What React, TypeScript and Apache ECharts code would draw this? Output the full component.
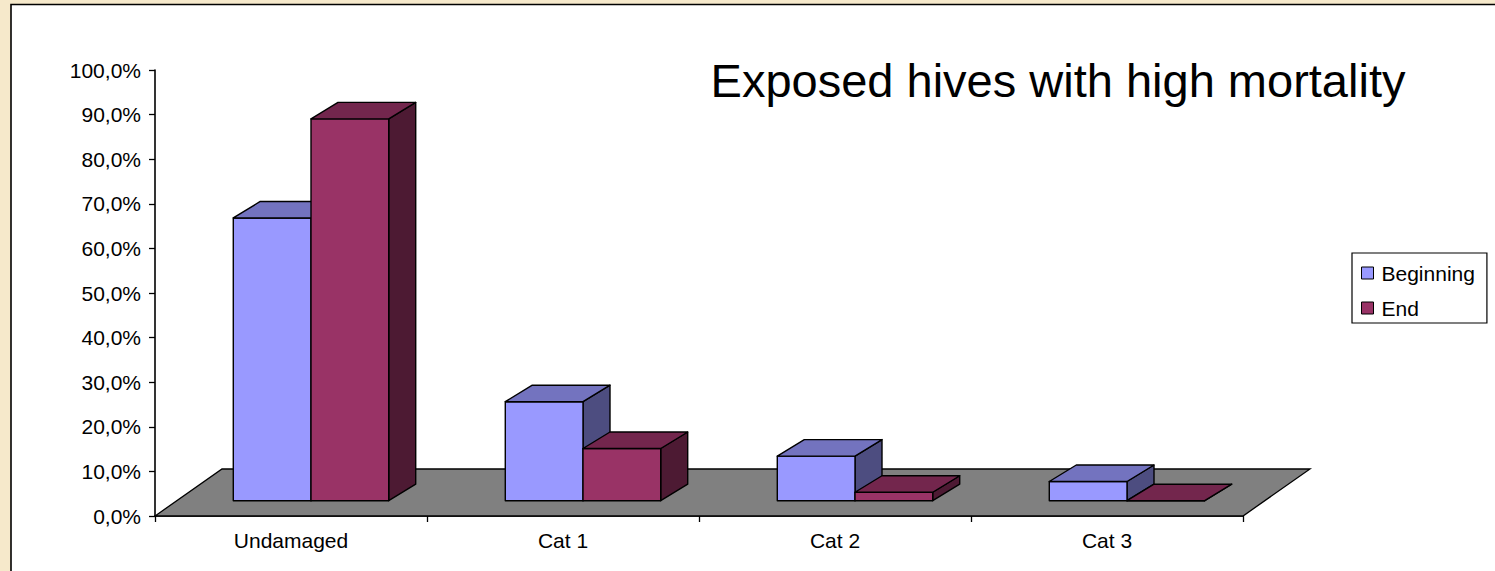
import React, { useEffect, useRef } from 'react';
import * as echarts from 'echarts';

const categories = ['Undamaged', 'Cat 1', 'Cat 2', 'Cat 3'];
const beginning = [63.4, 22.2, 10.0, 4.3];
const end = [85.6, 11.7, 1.9, 0];
const seriesNames = ['Beginning', 'End'];
const titleText = 'Exposed hives with high mortality';
const yMin = 0;
const yMax = 100;
const yInterval = 10;

const FONT = '"Liberation Sans", Arial, Helvetica, sans-serif';

// 3D look (pixels)
const OX = 20;
const OY = -15.3;
const DX = 27;
const DY = -16.5;
const FLOOR_DX = 67;
const FLOOR_DY = -47;

const COLORS = [
  { front: '#9999FF', top: '#7373BF', side: '#4D4D80' },
  { front: '#993366', top: '#73264D', side: '#4D1A33' },
];

function barRenderer(slot: number) {
  const c = COLORS[slot];
  return (params: any, api: any) => {
    const i = api.value(0);
    const v = api.value(1);
    const base = api.coord([i, 0]);
    const tp = api.coord([i, v]);
    const band = api.size([1, 0])[0];
    const w = band / 3.5;
    const x = base[0] - w + slot * w + OX;
    const y0 = base[1] + OY;
    const y1 = tp[1] + OY;
    const st = { stroke: '#000', lineWidth: 1.4, lineJoin: 'round' };
    return {
      type: 'group',
      children: [
        {
          type: 'polygon',
          shape: { points: [[x + w, y1], [x + w + DX, y1 + DY], [x + w + DX, y0 + DY], [x + w, y0]] },
          style: { fill: c.side, ...st },
        },
        {
          type: 'rect',
          shape: { x, y: y1, width: w, height: y0 - y1 },
          style: { fill: c.front, ...st },
        },
        {
          type: 'polygon',
          shape: { points: [[x, y1], [x + w, y1], [x + w + DX, y1 + DY], [x + DX, y1 + DY]] },
          style: { fill: c.top, ...st },
        },
      ],
    };
  };
}

function floorRenderer(params: any) {
  const cs = params.coordSys;
  const yb = cs.y + cs.height;
  const x0 = cs.x;
  const x1 = cs.x + cs.width;
  return {
    type: 'polygon',
    shape: {
      points: [[x0, yb], [x1, yb], [x1 + FLOOR_DX, yb + FLOOR_DY], [x0 + FLOOR_DX, yb + FLOOR_DY]],
    },
    style: { fill: '#808080', stroke: '#000', lineWidth: 1.3 },
  };
}

export default function App() {
  const ref = useRef<HTMLDivElement>(null);
  useEffect(() => {
    if (!ref.current) return;
    const chart = echarts.init(ref.current, undefined, { renderer: 'svg' });
    const fmt = (v: number) => v.toFixed(1).replace('.', ',') + '%';
    chart.setOption({
      animation: false,
      backgroundColor: '#F6E9CB',
      textStyle: { fontFamily: FONT },
      graphic: [
        {
          type: 'rect',
          z: -10,
          shape: { x: 11, y: 4.5, width: 1600, height: 700 },
          style: { fill: '#FFFFFF', stroke: '#000', lineWidth: 1.6 },
          silent: true,
        },
        {
          type: 'text',
          x: 1058,
          y: 80,
          style: {
            text: titleText,
            fontSize: 47,
            fontFamily: FONT,
            fill: '#000',
            align: 'center',
            verticalAlign: 'middle',
          },
        },
      ],
      legend: {
        data: seriesNames,
        orient: 'vertical',
        left: 1352,
        top: 253,
        padding: [9.5, 12, 4.5, 9],
        itemGap: 14,
        itemWidth: 12,
        itemHeight: 12,
        icon: 'rect',
        borderColor: '#000',
        borderWidth: 1.2,
        backgroundColor: '#fff',
        itemStyle: { borderColor: '#000', borderWidth: 1 },
        textStyle: { fontSize: 21, color: '#000', fontFamily: FONT, padding: [0, 0, 0, 3] },
      },
      grid: { left: 155, right: 252, top: 70, bottom: 55, containLabel: false },
      xAxis: {
        type: 'category',
        data: categories,
        boundaryGap: true,
        axisLine: { lineStyle: { color: '#000', width: 1.6 } },
        axisTick: { show: true, length: 6, lineStyle: { color: '#000', width: 1.3 } },
        axisLabel: { color: '#000', fontSize: 21, fontFamily: FONT, margin: 24, verticalAlign: 'middle' },
        splitLine: { show: false },
      },
      yAxis: {
        type: 'value',
        min: yMin,
        max: yMax,
        interval: yInterval,
        axisLine: { show: true, lineStyle: { color: '#000', width: 1.6 } },
        axisTick: { show: true, length: 6, lineStyle: { color: '#000', width: 1.3 } },
        axisLabel: { color: '#000', fontSize: 21, fontFamily: FONT, margin: 14, formatter: fmt },
        splitLine: { show: false },
      },
      series: [
        {
          type: 'custom',
          name: 'floor',
          silent: true,
          renderItem: floorRenderer,
          data: [[0, 0]],
          encode: { x: 0, y: 1 },
          z: 1,
        },
        {
          type: 'custom',
          name: seriesNames[0],
          renderItem: barRenderer(0),
          itemStyle: { color: COLORS[0].front },
          data: categories.map((_, i) => [i, beginning[i]]),
          encode: { x: 0, y: 1 },
          z: 2,
        },
        {
          type: 'custom',
          name: seriesNames[1],
          renderItem: barRenderer(1),
          itemStyle: { color: COLORS[1].front },
          data: categories.map((_, i) => [i, end[i]]),
          encode: { x: 0, y: 1 },
          z: 3,
        },
      ],
    });
    return () => chart.dispose();
  }, []);
  return (
    <div
      ref={ref}
      style={{ position: 'fixed', left: 0, top: 0, width: 1495, height: 571 }}
    />
  );
}
